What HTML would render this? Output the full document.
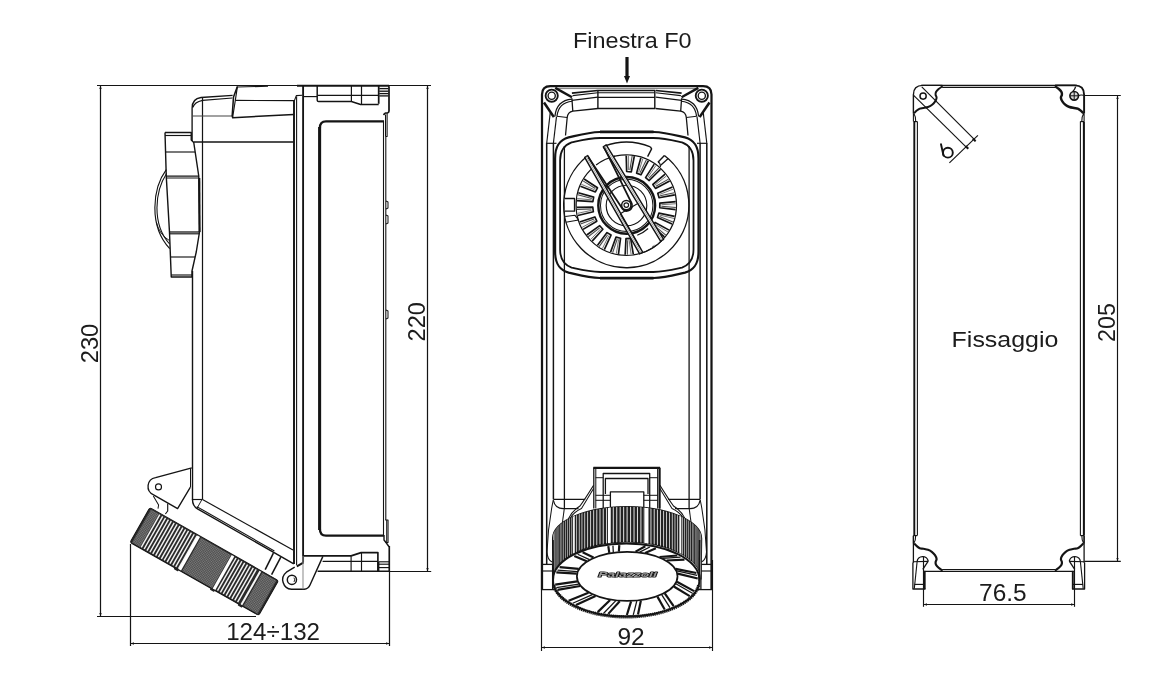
<!DOCTYPE html>
<html lang="it">
<head>
<meta charset="utf-8">
<title>Dimensioni</title>
<style>
html,body{margin:0;padding:0;background:#ffffff;}
body{width:1164px;height:699px;overflow:hidden;font-family:"Liberation Sans",sans-serif;}
svg{display:block;filter:grayscale(1);}
svg text{font-family:"Liberation Sans",sans-serif;}
</style>
</head>
<body>
<svg width="1164" height="699" viewBox="0 0 1164 699" stroke-linecap="butt" stroke-linejoin="round">
<rect x="0" y="0" width="1164" height="699" fill="#ffffff"/>
<line x1="97.00" y1="85.50" x2="300.00" y2="85.50" stroke="#141414" stroke-width="1.22" />
<line x1="389.00" y1="85.50" x2="431.00" y2="85.50" stroke="#141414" stroke-width="1.22" />
<line x1="100.50" y1="85.50" x2="100.50" y2="616.50" stroke="#141414" stroke-width="1.22" />
<line x1="97.00" y1="616.50" x2="256.00" y2="616.50" stroke="#141414" stroke-width="1.22" />
<line x1="427.50" y1="85.50" x2="427.50" y2="571.50" stroke="#141414" stroke-width="1.22" />
<line x1="389.50" y1="571.50" x2="431.20" y2="571.50" stroke="#141414" stroke-width="1.22" />
<line x1="130.50" y1="544.00" x2="130.50" y2="646.00" stroke="#141414" stroke-width="1.22" />
<line x1="389.50" y1="546.00" x2="389.50" y2="646.00" stroke="#141414" stroke-width="1.22" />
<line x1="130.50" y1="643.50" x2="389.50" y2="643.50" stroke="#141414" stroke-width="1.22" />
<polygon points="100.50,85.80 101.65,89.00 99.35,89.00" fill="#141414"/>
<polygon points="100.50,616.30 99.35,613.10 101.65,613.10" fill="#141414"/>
<polygon points="427.50,85.80 428.65,89.00 426.35,89.00" fill="#141414"/>
<polygon points="427.50,571.30 426.35,568.10 428.65,568.10" fill="#141414"/>
<polygon points="130.70,643.50 133.90,642.35 133.90,644.65" fill="#141414"/>
<polygon points="389.30,643.50 386.10,644.65 386.10,642.35" fill="#141414"/>
<path d="M165.00,132.50 L191.25,132.50 L191.25,140.00 L193.75,142.50 L198.75,176.00 L199.50,232.00 L196.25,252.00 L192.00,271.00 L192.00,277.00 L171.25,277.00 L169.50,232.50 L166.25,176.00 L165.00,132.50" stroke="#141414" stroke-width="1.41" fill="none" />
<line x1="165.00" y1="135.50" x2="191.25" y2="135.50" stroke="#141414" stroke-width="1.15" />
<line x1="165.50" y1="152.00" x2="195.00" y2="152.00" stroke="#141414" stroke-width="1.15" />
<line x1="166.30" y1="176.20" x2="198.80" y2="176.20" stroke="#141414" stroke-width="1.28" />
<line x1="166.40" y1="178.00" x2="198.90" y2="178.00" stroke="#141414" stroke-width="1.15" />
<line x1="169.50" y1="232.00" x2="199.50" y2="232.00" stroke="#141414" stroke-width="1.28" />
<line x1="169.60" y1="233.80" x2="199.30" y2="233.80" stroke="#141414" stroke-width="1.15" />
<line x1="171.00" y1="257.00" x2="195.00" y2="257.00" stroke="#141414" stroke-width="1.15" />
<line x1="171.20" y1="275.00" x2="192.00" y2="275.00" stroke="#141414" stroke-width="1.15" />
<line x1="199.30" y1="178.00" x2="199.60" y2="232.00" stroke="#141414" stroke-width="2.05" />
<path d="M166.3,169.6 C152.5,188 148.5,226 169.7,248.6" stroke="#141414" stroke-width="1.15" fill="none" />
<path d="M166.6,173.5 C155,191 151.5,224 169.6,244" stroke="#141414" stroke-width="1.09" fill="none" />
<path d="M156.3,222 Q159.5,235 169.4,240.5" stroke="#141414" stroke-width="0.96" fill="none" />
<path d="M232.6,95.3 L201.0,97.5 Q192.1,98.6 192.1,108.2 L192.1,141" stroke="#141414" stroke-width="1.34" fill="none" />
<path d="M232.4,98.0 L202.6,100.4 Q194.2,102.3 193.0,107.5" stroke="#141414" stroke-width="1.09" fill="none" />
<line x1="192.50" y1="271.00" x2="192.50" y2="500.00" stroke="#141414" stroke-width="1.41" />
<path d="M192.5,499.5 Q192.5,506 197.5,508.8 L293.8,563.8" stroke="#141414" stroke-width="1.41" fill="none" />
<line x1="196.80" y1="506.60" x2="274.40" y2="551.00" stroke="#141414" stroke-width="1.09" />
<line x1="202.50" y1="98.00" x2="202.50" y2="499.50" stroke="#141414" stroke-width="1.22" />
<line x1="192.50" y1="499.50" x2="202.50" y2="499.50" stroke="#141414" stroke-width="1.15" />
<line x1="202.50" y1="499.50" x2="293.00" y2="550.00" stroke="#141414" stroke-width="1.15" />
<line x1="192.00" y1="115.90" x2="232.30" y2="115.90" stroke="#444" stroke-width="1.02" />
<line x1="193.75" y1="142.00" x2="293.50" y2="142.00" stroke="#141414" stroke-width="1.28" />
<path d="M237.20,87.00 L268.00,86.20" stroke="#141414" stroke-width="1.15" fill="none" />
<path d="M237.40,86.60 L233.50,97.00 L232.20,115.90 L232.70,117.70 L293.75,114.50" stroke="#141414" stroke-width="1.54" fill="none" />
<path d="M237.40,86.60 L235.30,100.50 L232.70,117.00" stroke="#141414" stroke-width="1.15" fill="none" />
<line x1="235.40" y1="100.40" x2="293.75" y2="100.70" stroke="#141414" stroke-width="1.22" />
<line x1="294.00" y1="100.00" x2="294.00" y2="564.00" stroke="#141414" stroke-width="1.92" />
<line x1="296.60" y1="96.50" x2="296.60" y2="565.00" stroke="#141414" stroke-width="1.09" />
<line x1="303.10" y1="85.50" x2="303.10" y2="562.80" stroke="#141414" stroke-width="1.86" />
<line x1="296.80" y1="566.40" x2="303.40" y2="562.60" stroke="#141414" stroke-width="2.05" />
<path d="M294.4,100.6 L296.3,95.6 L302.2,95.3" stroke="#141414" stroke-width="1.15" fill="none" />
<line x1="303.50" y1="96.60" x2="317.00" y2="96.60" stroke="#141414" stroke-width="1.15" />
<line x1="297.00" y1="85.80" x2="389.00" y2="85.80" stroke="#141414" stroke-width="1.86" />
<path d="M317.2,86 L317.2,100.3 Q317.3,101.5 318.6,101.5 L351.4,101.5 L360.6,104.5 L378.7,104.5" stroke="#141414" stroke-width="1.47" fill="none" />
<line x1="351.40" y1="86.00" x2="351.40" y2="101.50" stroke="#141414" stroke-width="1.22" />
<line x1="361.50" y1="86.00" x2="361.50" y2="104.50" stroke="#141414" stroke-width="1.22" />
<line x1="317.50" y1="95.40" x2="378.20" y2="95.40" stroke="#141414" stroke-width="1.15" />
<line x1="379.30" y1="88.60" x2="388.50" y2="88.60" stroke="#141414" stroke-width="1.34" />
<line x1="379.30" y1="91.20" x2="388.50" y2="91.20" stroke="#141414" stroke-width="1.34" />
<line x1="379.30" y1="93.60" x2="388.50" y2="93.60" stroke="#141414" stroke-width="1.34" />
<line x1="379.30" y1="95.90" x2="388.50" y2="95.90" stroke="#141414" stroke-width="1.34" />
<line x1="378.70" y1="86.00" x2="378.70" y2="103.80" stroke="#141414" stroke-width="1.73" />
<path d="M388.2,85.8 Q389,85.9 389,87 L389,111 Q389,112.6 387.5,112.8 L385.6,113 Q384,113.4 383.8,115.2" stroke="#141414" stroke-width="1.73" fill="none" />
<path d="M385.50,114.50 L385.50,136.00" stroke="#141414" stroke-width="1.02" fill="none" />
<path d="M387.10,113.20 L387.10,136.50 L385.60,136.50" stroke="#141414" stroke-width="1.09" fill="none" />
<path d="M384,121.4 L326,121.4 Q319.9,121.4 319.9,128 L319.9,529 Q319.9,535.7 326,535.7 L384,535.7" stroke="#141414" stroke-width="2.30" fill="none" />
<line x1="319.60" y1="127.00" x2="319.60" y2="530.00" stroke="#141414" stroke-width="3.01" />
<line x1="383.50" y1="121.00" x2="383.50" y2="535.50" stroke="#141414" stroke-width="1.09" />
<line x1="385.80" y1="136.00" x2="385.80" y2="520.00" stroke="#141414" stroke-width="1.09" />
<path d="M386.00,201.00 L388.00,202.00 L388.00,208.00 L386.00,209.00" stroke="#141414" stroke-width="1.02" fill="none" />
<path d="M386.00,215.00 L388.00,216.00 L388.00,223.00 L386.00,224.00" stroke="#141414" stroke-width="1.02" fill="none" />
<path d="M386.00,310.00 L388.00,311.00 L388.00,318.00 L386.00,319.00" stroke="#141414" stroke-width="1.02" fill="none" />
<path d="M385.20,520.00 L388.00,520.00 L388.00,542.50 L385.20,542.50" stroke="#141414" stroke-width="1.15" fill="none" />
<line x1="386.60" y1="520.00" x2="386.60" y2="542.50" stroke="#141414" stroke-width="0.90" />
<path d="M384.00,535.00 L384.00,540.00 L386.00,542.50 L389.20,547.00 L389.20,571.30" stroke="#141414" stroke-width="1.41" fill="none" />
<line x1="304.00" y1="555.90" x2="351.10" y2="555.90" stroke="#141414" stroke-width="1.92" />
<path d="M351.10,555.90 L361.10,552.60 L377.90,552.60 L377.90,571.30" stroke="#141414" stroke-width="1.66" fill="none" />
<line x1="317.60" y1="571.30" x2="389.50" y2="571.30" stroke="#141414" stroke-width="1.41" />
<line x1="322.60" y1="561.40" x2="377.90" y2="561.40" stroke="#141414" stroke-width="1.15" />
<line x1="351.10" y1="555.90" x2="351.10" y2="571.30" stroke="#141414" stroke-width="1.15" />
<line x1="361.50" y1="552.60" x2="361.50" y2="571.30" stroke="#141414" stroke-width="1.15" />
<line x1="378.70" y1="561.80" x2="389.00" y2="561.80" stroke="#141414" stroke-width="1.15" />
<line x1="378.70" y1="564.20" x2="389.00" y2="564.20" stroke="#141414" stroke-width="1.15" />
<line x1="378.70" y1="567.60" x2="389.00" y2="567.60" stroke="#141414" stroke-width="1.15" />
<line x1="378.50" y1="561.80" x2="378.50" y2="571.30" stroke="#141414" stroke-width="1.79" />
<path d="M294.7,567.2 L286.4,572.2 A9.6,9.6 0 0 0 291.5,589.3 L304.3,589.3 Q308.2,589 310,585 L322.9,556.4" stroke="#141414" stroke-width="1.41" fill="none" />
<line x1="303.00" y1="556.00" x2="303.00" y2="589.30" stroke="#8a8a8a" stroke-width="1.02" />
<circle cx="291.90" cy="579.80" r="4.60" stroke="#141414" stroke-width="1.47" fill="none"/>
<path d="M294.0,577.6 Q295.3,579.8 294.0,582.0" stroke="#141414" stroke-width="0.90" fill="none" />
<path d="M191.8,467.8 L155.6,477.6 A9,9 0 0 0 153.6,494.8 L177.6,508.6 L190.4,487.2" stroke="#141414" stroke-width="1.34" fill="none" />
<path d="M153.3,496 L158.6,505 L158.0,508.6" stroke="#141414" stroke-width="1.02" fill="none" />
<path d="M167.7,503.4 L167.7,511 L165.4,514" stroke="#141414" stroke-width="1.15" fill="none" />
<line x1="190.50" y1="468.40" x2="190.50" y2="487.00" stroke="#141414" stroke-width="1.02" />
<circle cx="158.50" cy="486.90" r="3.00" stroke="#141414" stroke-width="1.15" fill="none"/>
<line x1="201.90" y1="499.60" x2="197.10" y2="508.20" stroke="#141414" stroke-width="0.96" />
<line x1="273.40" y1="553.20" x2="265.20" y2="569.60" stroke="#141414" stroke-width="1.54" />
<line x1="280.80" y1="557.20" x2="271.60" y2="574.60" stroke="#141414" stroke-width="1.54" />
<g transform="translate(149.8 507.6) rotate(29.6)">
<rect x="0" y="0" width="148.0" height="40.0" rx="2.2" fill="#2a2a2a" stroke="#141414" stroke-width="1"/>
<pattern id="kn" width="1.6" height="1.6" patternUnits="userSpaceOnUse"><rect width="1.6" height="1.6" fill="#262626"/><rect x="0.25" y="0.25" width="0.9" height="0.9" fill="#e4e4e4"/></pattern>
<rect x="2.00" y="1.0" width="9.00" height="38.0" fill="url(#kn)"/>
<rect x="11.50" y="1.2" width="1.45" height="37.6" fill="#f2f2f2"/>
<rect x="14.80" y="1.2" width="1.45" height="37.6" fill="#f2f2f2"/>
<rect x="18.10" y="1.2" width="1.45" height="37.6" fill="#f2f2f2"/>
<rect x="21.40" y="1.2" width="1.45" height="37.6" fill="#f2f2f2"/>
<rect x="24.70" y="1.2" width="1.45" height="37.6" fill="#f2f2f2"/>
<rect x="28.00" y="1.2" width="1.45" height="37.6" fill="#f2f2f2"/>
<rect x="31.30" y="1.2" width="1.45" height="37.6" fill="#f2f2f2"/>
<rect x="34.60" y="1.2" width="1.45" height="37.6" fill="#f2f2f2"/>
<rect x="37.90" y="1.2" width="1.45" height="37.6" fill="#f2f2f2"/>
<rect x="41.20" y="1.2" width="1.45" height="37.6" fill="#f2f2f2"/>
<rect x="44.50" y="1.2" width="1.45" height="37.6" fill="#f2f2f2"/>
<rect x="47.80" y="1.2" width="1.45" height="37.6" fill="#f2f2f2"/>
<rect x="51.10" y="1.2" width="1.45" height="37.6" fill="#f2f2f2"/>
<rect x="54.40" y="1.2" width="1.45" height="37.6" fill="#f2f2f2"/>
<rect x="55.3" y="0.8" width="2.9" height="38.4" fill="#fff"/>
<rect x="59.50" y="1.0" width="34.50" height="38.0" fill="url(#kn)"/>
<rect x="94.6" y="0.8" width="3.0" height="38.4" fill="#fff"/>
<rect x="99.20" y="1.2" width="1.45" height="37.6" fill="#f2f2f2"/>
<rect x="102.50" y="1.2" width="1.45" height="37.6" fill="#f2f2f2"/>
<rect x="105.80" y="1.2" width="1.45" height="37.6" fill="#f2f2f2"/>
<rect x="109.10" y="1.2" width="1.45" height="37.6" fill="#f2f2f2"/>
<rect x="112.40" y="1.2" width="1.45" height="37.6" fill="#f2f2f2"/>
<rect x="115.70" y="1.2" width="1.45" height="37.6" fill="#f2f2f2"/>
<rect x="119.00" y="1.2" width="1.45" height="37.6" fill="#f2f2f2"/>
<rect x="122.30" y="1.2" width="1.45" height="37.6" fill="#f2f2f2"/>
<rect x="126.6" y="0.8" width="2.0" height="38.4" fill="#f4f4f4"/>
<rect x="130.00" y="1.0" width="16.00" height="38.0" fill="url(#kn)"/>
<rect x="51" y="39.5" width="5" height="2.2" rx="1" fill="#222"/>
<rect x="92.5" y="39.5" width="5" height="2.2" rx="1" fill="#222"/>
<rect x="124.5" y="39.5" width="5" height="2.2" rx="1" fill="#222"/>
</g>
<text x="97.90" y="343.50" font-size="24.6" text-anchor="middle" fill="#1b1b22" transform="rotate(-90 97.90 343.50)" textLength="39.6" lengthAdjust="spacingAndGlyphs" >230</text>
<text x="424.60" y="321.80" font-size="24.6" text-anchor="middle" fill="#1b1b22" transform="rotate(-90 424.60 321.80)" textLength="39.2" lengthAdjust="spacingAndGlyphs" >220</text>
<text x="273.10" y="639.80" font-size="23.8" text-anchor="middle" fill="#1b1b22" textLength="93.8" lengthAdjust="spacingAndGlyphs" >124&#247;132</text>
<text x="632.30" y="47.60" font-size="22.8" text-anchor="middle" fill="#1b1b22" textLength="118.5" lengthAdjust="spacingAndGlyphs" >Finestra F0</text>
<line x1="627.00" y1="57.00" x2="627.00" y2="78.00" stroke="#141414" stroke-width="3.20" />
<polygon points="627.00,83.50 624.00,75.90 630.00,75.90" fill="#141414"/>
<line x1="541.50" y1="560.00" x2="541.50" y2="651.00" stroke="#141414" stroke-width="1.15" />
<line x1="712.50" y1="560.00" x2="712.50" y2="651.00" stroke="#141414" stroke-width="1.15" />
<line x1="541.50" y1="647.50" x2="712.50" y2="647.50" stroke="#141414" stroke-width="1.15" />
<polygon points="541.70,647.50 544.90,646.35 544.90,648.65" fill="#141414"/>
<polygon points="712.30,647.50 709.10,648.65 709.10,646.35" fill="#141414"/>
<text x="631.10" y="644.80" font-size="23.8" text-anchor="middle" fill="#1b1b22" textLength="27.2" lengthAdjust="spacingAndGlyphs" >92</text>
<path d="M542.0,590 L542.0,94.6 Q542.0,86.2 550.4,86.2 L703.1,86.2 Q711.5,86.2 711.5,94.6 L711.5,590" stroke="#141414" stroke-width="2.24" fill="none" />
<path d="M546.7,565 L546.7,143 M706.8,565 L706.8,143" stroke="#141414" stroke-width="1.54" fill="none" />
<path d="M553.4,499 L553.4,143 M700.1,499 L700.1,143" stroke="#141414" stroke-width="1.47" fill="none" />
<path d="M564.4,508.6 L564.4,146 M689.1,508.6 L689.1,146" stroke="#141414" stroke-width="1.28" fill="none" />
<line x1="556.00" y1="88.60" x2="697.50" y2="88.60" stroke="#555" stroke-width="0.77" />
<circle cx="551.70" cy="95.70" r="6.10" stroke="#141414" stroke-width="1.86" fill="none"/>
<circle cx="551.70" cy="95.70" r="3.60" stroke="#141414" stroke-width="1.34" fill="none"/>
<circle cx="701.80" cy="95.70" r="6.10" stroke="#141414" stroke-width="1.86" fill="none"/>
<circle cx="701.80" cy="95.70" r="3.60" stroke="#141414" stroke-width="1.34" fill="none"/>
<path d="M555.20,87.90 L572.00,97.30" stroke="#141414" stroke-width="2.43" fill="none" />
<path d="M544.00,102.50 L553.90,117.10" stroke="#141414" stroke-width="2.56" fill="none" />
<path d="M571.90,99.2 Q556.50,100.5 554.90,116.4" stroke="#141414" stroke-width="1.28" fill="none" />
<path d="M572.20,101.2 Q558.50,102.5 556.90,116.4" stroke="#141414" stroke-width="1.15" fill="none" />
<path d="M571.90,93.20 L597.80,90.50" stroke="#141414" stroke-width="1.66" fill="none" />
<path d="M572.60,95.60 L597.80,92.70" stroke="#141414" stroke-width="1.15" fill="none" />
<path d="M571.90,100.30 L597.80,97.10" stroke="#141414" stroke-width="1.28" fill="none" />
<path d="M571.90,98.20 L572.80,111.10 L598.00,108.50" stroke="#141414" stroke-width="1.28" fill="none" />
<path d="M572.80,111.1 Q567.80,112 567.20,117.5 L565.50,135.5" stroke="#141414" stroke-width="1.28" fill="none" />
<path d="M556.90,116.30 L567.20,117.50" stroke="#141414" stroke-width="1.15" fill="none" />
<path d="M550.20,113.00 L546.70,143.30" stroke="#141414" stroke-width="1.15" fill="none" />
<path d="M556.50,116.60 L553.40,143.30" stroke="#141414" stroke-width="1.15" fill="none" />
<path d="M546.70,143.30 L556.50,143.30" stroke="#141414" stroke-width="1.15" fill="none" />
<path d="M698.30,87.90 L681.50,97.30" stroke="#141414" stroke-width="2.43" fill="none" />
<path d="M709.50,102.50 L699.60,117.10" stroke="#141414" stroke-width="2.56" fill="none" />
<path d="M681.60,99.2 Q697.00,100.5 698.60,116.4" stroke="#141414" stroke-width="1.28" fill="none" />
<path d="M681.30,101.2 Q695.00,102.5 696.60,116.4" stroke="#141414" stroke-width="1.15" fill="none" />
<path d="M681.60,93.20 L655.70,90.50" stroke="#141414" stroke-width="1.66" fill="none" />
<path d="M680.90,95.60 L655.70,92.70" stroke="#141414" stroke-width="1.15" fill="none" />
<path d="M681.60,100.30 L655.70,97.10" stroke="#141414" stroke-width="1.28" fill="none" />
<path d="M681.60,98.20 L680.70,111.10 L655.50,108.50" stroke="#141414" stroke-width="1.28" fill="none" />
<path d="M680.70,111.1 Q685.70,112 686.30,117.5 L688.00,135.5" stroke="#141414" stroke-width="1.28" fill="none" />
<path d="M696.60,116.30 L686.30,117.50" stroke="#141414" stroke-width="1.15" fill="none" />
<path d="M703.30,113.00 L706.80,143.30" stroke="#141414" stroke-width="1.15" fill="none" />
<path d="M697.00,116.60 L700.10,143.30" stroke="#141414" stroke-width="1.15" fill="none" />
<path d="M706.80,143.30 L697.00,143.30" stroke="#141414" stroke-width="1.15" fill="none" />
<path d="M597.90,108.50 L597.90,90.50 L654.80,90.50 L654.80,108.50 L597.90,108.50" stroke="#141414" stroke-width="1.41" fill="none" />
<line x1="597.90" y1="92.70" x2="654.80" y2="92.70" stroke="#141414" stroke-width="1.15" />
<line x1="597.90" y1="97.30" x2="654.80" y2="97.30" stroke="#141414" stroke-width="1.28" />
<path d="M555.1,158.4 C555.1,145.9 559.6,140.0 568.6,137.4 C577.6,135.4 587.9,132.3 599.9,132.0 L653.7,132.0 C665.7,132.3 676.0,135.4 685.0,137.4 C694.0,140.0 698.5,145.9 698.5,158.4 L698.5,251.60000000000002 C698.5,264.1 694.0,270.0 685.0,272.6 C676.0,274.6 665.7,277.7 653.7,278.0 L599.9,278.0 C587.9,277.7 577.6,274.6 568.6,272.6 C559.6,270.0 555.1,264.1 555.1,251.60000000000002 Z" stroke="#141414" stroke-width="2.18" fill="none" />
<path d="M560.1,160.4 C560.1,150.9 564.6,145.0 571.6,142.4 C580.6,140.4 588.2,138.3 600.2,138.0 L653.4,138.0 C665.4,138.3 673.0,140.4 682.0,142.4 C689.0,145.0 693.5,150.9 693.5,160.4 L693.5,249.60000000000002 C693.5,259.1 689.0,265.0 682.0,267.6 C673.0,269.6 665.4,271.7 653.4,272.0 L600.2,272.0 C588.2,271.7 580.6,269.6 571.6,267.6 C564.6,265.0 560.1,259.1 560.1,249.60000000000002 Z" stroke="#141414" stroke-width="1.79" fill="none" />
<line x1="600.00" y1="131.90" x2="653.60" y2="131.90" stroke="#141414" stroke-width="2.56" />
<line x1="600.00" y1="278.10" x2="653.60" y2="278.10" stroke="#141414" stroke-width="2.56" />
<path d="M664.41,155.44 A62.6,62.6 0 1 1 586.48,156.80" stroke="#141414" stroke-width="1.41" fill="none" />
<circle cx="626.30" cy="205.10" r="50.20" stroke="#141414" stroke-width="1.28" fill="none"/>
<path d="M626.21,155.50 L626.65,171.50 L631.32,171.88 L634.32,156.15" stroke="#141414" stroke-width="1.66" fill="#fafafa" />
<line x1="628.38" y1="170.06" x2="628.38" y2="155.54" stroke="#666" stroke-width="0.90" />
<line x1="629.85" y1="170.18" x2="632.17" y2="155.85" stroke="#444" stroke-width="1.02" />
<path d="M640.88,157.69 L636.57,173.11 L640.92,174.85 L648.43,160.71" stroke="#141414" stroke-width="1.66" fill="#fafafa" />
<line x1="638.65" y1="172.24" x2="642.94" y2="158.37" stroke="#666" stroke-width="0.90" />
<line x1="640.01" y1="172.79" x2="646.47" y2="159.79" stroke="#444" stroke-width="1.02" />
<path d="M654.25,164.13 L645.57,177.58 L649.22,180.53 L660.57,169.24" stroke="#141414" stroke-width="1.66" fill="#fafafa" />
<line x1="647.81" y1="177.37" x2="656.01" y2="165.38" stroke="#666" stroke-width="0.90" />
<line x1="648.96" y1="178.29" x2="658.97" y2="167.78" stroke="#444" stroke-width="1.02" />
<path d="M665.12,174.22 L652.85,184.51 L655.46,188.40 L669.64,180.98" stroke="#141414" stroke-width="1.66" fill="#fafafa" />
<line x1="655.05" y1="184.97" x2="666.43" y2="175.95" stroke="#666" stroke-width="0.90" />
<line x1="655.87" y1="186.19" x2="668.55" y2="179.11" stroke="#444" stroke-width="1.02" />
<path d="M672.51,187.08 L657.75,193.28 L659.09,197.77 L674.83,194.87" stroke="#141414" stroke-width="1.66" fill="#fafafa" />
<line x1="659.72" y1="194.37" x2="673.25" y2="189.12" stroke="#666" stroke-width="0.90" />
<line x1="660.14" y1="195.78" x2="674.34" y2="192.76" stroke="#444" stroke-width="1.02" />
<path d="M675.77,201.55 L659.84,203.11 L659.79,207.79 L675.69,209.68" stroke="#141414" stroke-width="1.66" fill="#fafafa" />
<line x1="661.40" y1="204.73" x2="675.88" y2="203.72" stroke="#666" stroke-width="0.90" />
<line x1="661.38" y1="206.20" x2="675.84" y2="207.52" stroke="#444" stroke-width="1.02" />
<path d="M674.61,216.34 L658.93,213.11 L657.50,217.58 L672.12,224.08" stroke="#141414" stroke-width="1.66" fill="#fafafa" />
<line x1="659.94" y1="215.13" x2="674.07" y2="218.44" stroke="#666" stroke-width="0.90" />
<line x1="659.49" y1="216.53" x2="672.91" y2="222.06" stroke="#444" stroke-width="1.02" />
<path d="M669.12,230.12 L655.10,222.41 L652.41,226.25 L664.46,236.78" stroke="#141414" stroke-width="1.66" fill="#fafafa" />
<line x1="655.47" y1="224.63" x2="667.99" y2="231.97" stroke="#666" stroke-width="0.90" />
<line x1="654.62" y1="225.83" x2="665.81" y2="235.09" stroke="#444" stroke-width="1.02" />
<path d="M659.81,241.67 L648.70,230.15 L644.99,233.02 L653.39,246.65" stroke="#141414" stroke-width="1.66" fill="#fafafa" />
<line x1="648.39" y1="232.38" x2="658.18" y2="243.10" stroke="#666" stroke-width="0.90" />
<line x1="647.23" y1="233.28" x2="655.17" y2="245.43" stroke="#444" stroke-width="1.02" />
<path d="M633.29,254.21 L630.63,238.42 L625.95,238.70 L625.17,254.69" stroke="#141414" stroke-width="1.66" fill="#fafafa" />
<line x1="629.11" y1="240.09" x2="631.14" y2="254.46" stroke="#666" stroke-width="0.90" />
<line x1="627.65" y1="240.17" x2="627.34" y2="254.69" stroke="#444" stroke-width="1.02" />
<path d="M618.46,254.08 L620.58,238.21 L616.03,237.09 L610.56,252.14" stroke="#141414" stroke-width="1.66" fill="#fafafa" />
<line x1="618.64" y1="239.35" x2="616.33" y2="253.69" stroke="#666" stroke-width="0.90" />
<line x1="617.22" y1="239.00" x2="612.63" y2="252.78" stroke="#444" stroke-width="1.02" />
<path d="M604.32,249.57 L611.05,235.04 L607.03,232.62 L597.36,245.38" stroke="#141414" stroke-width="1.66" fill="#fafafa" />
<line x1="608.86" y1="235.56" x2="602.41" y2="248.56" stroke="#666" stroke-width="0.90" />
<line x1="607.60" y1="234.80" x2="599.14" y2="246.60" stroke="#444" stroke-width="1.02" />
<path d="M592.16,241.08 L602.88,229.19 L599.75,225.69 L586.74,235.02" stroke="#141414" stroke-width="1.66" fill="#fafafa" />
<line x1="600.63" y1="229.04" x2="590.62" y2="239.56" stroke="#666" stroke-width="0.90" />
<line x1="599.65" y1="227.94" x2="588.08" y2="236.72" stroke="#444" stroke-width="1.02" />
<path d="M583.05,229.37 L596.80,221.18 L594.85,216.92 L579.66,221.98" stroke="#141414" stroke-width="1.66" fill="#fafafa" />
<line x1="594.70" y1="220.38" x2="582.03" y2="227.46" stroke="#666" stroke-width="0.90" />
<line x1="594.09" y1="219.04" x2="580.44" y2="224.00" stroke="#444" stroke-width="1.02" />
<path d="M577.80,215.50 L593.36,211.74 L592.76,207.09 L576.76,207.44" stroke="#141414" stroke-width="1.66" fill="#fafafa" />
<line x1="591.59" y1="210.35" x2="577.39" y2="213.37" stroke="#666" stroke-width="0.90" />
<line x1="591.41" y1="208.89" x2="576.90" y2="209.60" stroke="#444" stroke-width="1.02" />
<path d="M576.90,200.69 L592.87,201.70 L593.67,197.09 L578.28,192.68" stroke="#141414" stroke-width="1.66" fill="#fafafa" />
<line x1="591.59" y1="199.85" x2="577.14" y2="198.54" stroke="#666" stroke-width="0.90" />
<line x1="591.84" y1="198.40" x2="577.78" y2="194.79" stroke="#444" stroke-width="1.02" />
<path d="M580.41,186.28 L595.37,191.97 L597.50,187.79 L584.10,179.04" stroke="#141414" stroke-width="1.66" fill="#fafafa" />
<line x1="594.70" y1="189.82" x2="581.27" y2="184.30" stroke="#666" stroke-width="0.90" />
<line x1="595.37" y1="188.51" x2="583.00" y2="180.90" stroke="#444" stroke-width="1.02" />
<path d="M586.23,156.49 L604.75,145.90 L662.11,240.29 L641.14,253.05 Z" stroke="#fff" stroke-width="0.13" fill="#fff" />
<path d="M596.09,165.01 A50.2,50.2 0 0 1 615.01,156.19" stroke="#141414" stroke-width="1.28" fill="none" />
<path d="M663.01,239.34 A50.2,50.2 0 0 1 640.14,253.36" stroke="#141414" stroke-width="1.28" fill="none" />
<path d="M564.60,198.50 L574.50,198.50 L574.50,211.20 L564.80,211.20" stroke="#141414" stroke-width="1.28" fill="#fff" />
<path d="M565.20,216.50 L575.00,215.30 L578.60,220.00 L565.80,222.30" stroke="#141414" stroke-width="1.15" fill="none" />
<circle cx="626.70" cy="205.40" r="28.40" stroke="#141414" stroke-width="2.43" fill="#fff"/>
<circle cx="626.70" cy="205.40" r="26.20" stroke="#141414" stroke-width="1.02" fill="none"/>
<circle cx="626.50" cy="205.50" r="20.30" stroke="#141414" stroke-width="1.15" fill="none"/>
<path d="M648.12,228.50 A32,32 0 0 1 637.24,235.17" stroke="#141414" stroke-width="1.15" fill="none" />
<path d="M604.75,145.90 A63,63 0 0 1 650.41,146.90" stroke="#141414" stroke-width="1.41" fill="none" />
<path d="M650.41,146.90 L651.6,148.9 L647.6,156.6" stroke="#141414" stroke-width="1.41" fill="none" />
<line x1="664.41" y1="155.44" x2="657.94" y2="162.33" stroke="#141414" stroke-width="1.41" />
<line x1="668.19" y1="158.58" x2="660.41" y2="165.58" stroke="#141414" stroke-width="1.28" />
<path d="M657.94,162.33 Q660.38,162.16 660.41,167.08" stroke="#141414" stroke-width="1.15" fill="none" />
<path d="M603.26,146.81 L660.61,241.19 L663.60,239.38 L606.25,144.99 Z" stroke="#141414" stroke-width="1.47" fill="#fff" />
<line x1="604.75" y1="145.90" x2="662.11" y2="240.29" stroke="#8a8a8a" stroke-width="0.77" />
<path d="M584.71,157.35 L639.62,253.92 L642.67,252.19 L587.75,155.62 Z" stroke="#141414" stroke-width="1.47" fill="#fff" />
<line x1="586.23" y1="156.49" x2="641.14" y2="253.05" stroke="#8a8a8a" stroke-width="0.77" />
<path d="M588.4,157.2 L621.3,207.1 Q623.2,210.6 626.2,211.0 Q630.4,211.0 631.9,207.2 Q632.6,204.6 631.2,202.3 L604.2,147.6" stroke="#141414" stroke-width="1.79" fill="none" />
<line x1="620.20" y1="213.70" x2="638.20" y2="203.30" stroke="#141414" stroke-width="1.15" />
<line x1="620.40" y1="214.00" x2="639.30" y2="246.50" stroke="#141414" stroke-width="1.15" />
<circle cx="626.30" cy="205.10" r="4.60" stroke="#141414" stroke-width="1.41" fill="#fff"/>
<circle cx="626.30" cy="205.10" r="2.30" stroke="#141414" stroke-width="1.15" fill="none"/>
<path d="M593.80,508.60 L593.80,467.80 L659.70,467.80 L659.70,508.60" stroke="#141414" stroke-width="1.28" fill="none" />
<line x1="593.40" y1="467.80" x2="660.10" y2="467.80" stroke="#141414" stroke-width="2.18" />
<line x1="659.50" y1="468.00" x2="659.50" y2="508.60" stroke="#141414" stroke-width="2.05" />
<line x1="595.80" y1="468.00" x2="595.80" y2="508.60" stroke="#141414" stroke-width="1.02" />
<line x1="657.60" y1="468.00" x2="657.60" y2="508.60" stroke="#141414" stroke-width="1.02" />
<path d="M603.20,508.00 L603.20,473.50 L649.70,473.50 L649.70,508.00" stroke="#141414" stroke-width="1.28" fill="none" />
<path d="M605.40,494.00 L605.40,478.50 L648.00,478.50 L648.00,494.00" stroke="#141414" stroke-width="1.28" fill="none" />
<path d="M610.40,507.00 L610.40,491.90 L643.80,491.90 L643.80,507.00" stroke="#141414" stroke-width="1.28" fill="none" />
<line x1="595.60" y1="477.70" x2="603.20" y2="477.70" stroke="#141414" stroke-width="1.02" />
<line x1="649.70" y1="477.70" x2="657.80" y2="477.70" stroke="#141414" stroke-width="1.02" />
<line x1="595.60" y1="495.30" x2="610.40" y2="495.30" stroke="#141414" stroke-width="1.02" />
<line x1="643.80" y1="495.30" x2="657.80" y2="495.30" stroke="#141414" stroke-width="1.02" />
<line x1="595.60" y1="500.30" x2="610.40" y2="500.30" stroke="#141414" stroke-width="1.02" />
<line x1="643.80" y1="500.30" x2="657.80" y2="500.30" stroke="#141414" stroke-width="1.02" />
<path d="M593.60,485.2 Q585.00,499 580.00,506 Q572.00,511 568.50,518.7" stroke="#141414" stroke-width="1.15" fill="none" />
<path d="M593.60,488.5 Q586.00,501 581.50,508.5 Q574.00,512 570.50,517.7" stroke="#141414" stroke-width="1.02" fill="none" />
<line x1="553.40" y1="499.40" x2="585.20" y2="499.40" stroke="#141414" stroke-width="1.15" />
<path d="M553.40,500.3 Q555.00,508.6 563.50,508.6 L578.50,508.6" stroke="#141414" stroke-width="1.15" fill="none" />
<path d="M553.40,499.4 Q548.00,525 547.00,552 Q547.50,560 552.00,562" stroke="#141414" stroke-width="1.02" fill="none" />
<path d="M564.30,508.6 L562.50,522" stroke="#141414" stroke-width="1.02" fill="none" />
<path d="M541.40,564.40 L552.60,564.40" stroke="#141414" stroke-width="1.28" fill="none" />
<path d="M541.40,571.00 L552.60,571.00" stroke="#141414" stroke-width="1.15" fill="none" />
<path d="M552.60,564.40 L552.60,589.60" stroke="#141414" stroke-width="1.28" fill="none" />
<line x1="541.40" y1="589.60" x2="556.00" y2="589.60" stroke="#141414" stroke-width="1.28" />
<path d="M659.90,485.2 Q668.50,499 673.50,506 Q681.50,511 685.00,518.7" stroke="#141414" stroke-width="1.15" fill="none" />
<path d="M659.90,488.5 Q667.50,501 672.00,508.5 Q679.50,512 683.00,517.7" stroke="#141414" stroke-width="1.02" fill="none" />
<line x1="700.10" y1="499.40" x2="668.30" y2="499.40" stroke="#141414" stroke-width="1.15" />
<path d="M700.10,500.3 Q698.50,508.6 690.00,508.6 L675.00,508.6" stroke="#141414" stroke-width="1.15" fill="none" />
<path d="M700.10,499.4 Q705.50,525 706.50,552 Q706.00,560 701.50,562" stroke="#141414" stroke-width="1.02" fill="none" />
<path d="M689.20,508.6 L691.00,522" stroke="#141414" stroke-width="1.02" fill="none" />
<path d="M712.10,564.40 L700.90,564.40" stroke="#141414" stroke-width="1.28" fill="none" />
<path d="M712.10,571.00 L700.90,571.00" stroke="#141414" stroke-width="1.15" fill="none" />
<path d="M700.90,564.40 L700.90,589.60" stroke="#141414" stroke-width="1.28" fill="none" />
<line x1="712.10" y1="589.60" x2="697.50" y2="589.60" stroke="#141414" stroke-width="1.28" />
<clipPath id="kb"><path d="M552.6,538.5 A74.5,31.8 0 0 1 701.6,538.5 L701.0,579 A72.6,36.6 0 0 0 553.2,579 Z"/></clipPath>
<path d="M552.6,538.5 A74.5,31.8 0 0 1 701.6,538.5 L701.0,579 A72.6,36.6 0 0 0 553.2,579 Z" stroke="#141414" stroke-width="1.28" fill="#222" />
<g clip-path="url(#kb)">
<rect x="552.97" y="505" width="0.30" height="80" fill="#dcdcdc"/>
<rect x="553.13" y="505" width="0.30" height="80" fill="#dcdcdc"/>
<rect x="553.46" y="505" width="0.30" height="80" fill="#dcdcdc"/>
<rect x="553.94" y="505" width="0.30" height="80" fill="#dcdcdc"/>
<rect x="554.59" y="505" width="0.30" height="80" fill="#dcdcdc"/>
<rect x="555.40" y="505" width="0.30" height="80" fill="#dcdcdc"/>
<rect x="556.35" y="505" width="0.32" height="80" fill="#dcdcdc"/>
<rect x="557.45" y="505" width="0.36" height="80" fill="#dcdcdc"/>
<rect x="558.70" y="505" width="0.41" height="80" fill="#dcdcdc"/>
<rect x="560.09" y="505" width="0.45" height="80" fill="#dcdcdc"/>
<rect x="561.64" y="505" width="0.50" height="80" fill="#dcdcdc"/>
<rect x="563.33" y="505" width="0.54" height="80" fill="#dcdcdc"/>
<rect x="565.16" y="505" width="0.58" height="80" fill="#dcdcdc"/>
<rect x="567.13" y="505" width="0.62" height="80" fill="#dcdcdc"/>
<rect x="569.22" y="505" width="0.66" height="80" fill="#dcdcdc"/>
<rect x="571.45" y="505" width="0.70" height="80" fill="#dcdcdc"/>
<rect x="573.80" y="505" width="0.73" height="80" fill="#dcdcdc"/>
<rect x="576.26" y="505" width="0.77" height="80" fill="#dcdcdc"/>
<rect x="578.84" y="505" width="0.80" height="80" fill="#dcdcdc"/>
<rect x="581.52" y="505" width="0.83" height="80" fill="#dcdcdc"/>
<rect x="584.30" y="505" width="0.86" height="80" fill="#dcdcdc"/>
<rect x="587.18" y="505" width="0.89" height="80" fill="#dcdcdc"/>
<rect x="590.15" y="505" width="0.91" height="80" fill="#dcdcdc"/>
<rect x="593.19" y="505" width="0.94" height="80" fill="#dcdcdc"/>
<rect x="596.31" y="505" width="0.96" height="80" fill="#dcdcdc"/>
<rect x="599.50" y="505" width="0.98" height="80" fill="#dcdcdc"/>
<rect x="602.75" y="505" width="0.99" height="80" fill="#dcdcdc"/>
<rect x="606.05" y="505" width="1.01" height="80" fill="#dcdcdc"/>
<rect x="609.40" y="505" width="1.02" height="80" fill="#dcdcdc"/>
<rect x="612.79" y="505" width="1.03" height="80" fill="#dcdcdc"/>
<rect x="616.21" y="505" width="1.04" height="80" fill="#dcdcdc"/>
<rect x="619.65" y="505" width="1.05" height="80" fill="#dcdcdc"/>
<rect x="623.11" y="505" width="1.05" height="80" fill="#dcdcdc"/>
<rect x="626.58" y="505" width="1.05" height="80" fill="#dcdcdc"/>
<rect x="630.04" y="505" width="1.05" height="80" fill="#dcdcdc"/>
<rect x="633.51" y="505" width="1.05" height="80" fill="#dcdcdc"/>
<rect x="636.96" y="505" width="1.04" height="80" fill="#dcdcdc"/>
<rect x="640.38" y="505" width="1.03" height="80" fill="#dcdcdc"/>
<rect x="643.78" y="505" width="1.02" height="80" fill="#dcdcdc"/>
<rect x="647.14" y="505" width="1.01" height="80" fill="#dcdcdc"/>
<rect x="650.46" y="505" width="0.99" height="80" fill="#dcdcdc"/>
<rect x="653.72" y="505" width="0.98" height="80" fill="#dcdcdc"/>
<rect x="656.93" y="505" width="0.96" height="80" fill="#dcdcdc"/>
<rect x="660.07" y="505" width="0.94" height="80" fill="#dcdcdc"/>
<rect x="663.14" y="505" width="0.91" height="80" fill="#dcdcdc"/>
<rect x="666.13" y="505" width="0.89" height="80" fill="#dcdcdc"/>
<rect x="669.04" y="505" width="0.86" height="80" fill="#dcdcdc"/>
<rect x="671.85" y="505" width="0.83" height="80" fill="#dcdcdc"/>
<rect x="674.56" y="505" width="0.80" height="80" fill="#dcdcdc"/>
<rect x="677.17" y="505" width="0.77" height="80" fill="#dcdcdc"/>
<rect x="679.67" y="505" width="0.73" height="80" fill="#dcdcdc"/>
<rect x="682.05" y="505" width="0.70" height="80" fill="#dcdcdc"/>
<rect x="684.32" y="505" width="0.66" height="80" fill="#dcdcdc"/>
<rect x="686.45" y="505" width="0.62" height="80" fill="#dcdcdc"/>
<rect x="688.46" y="505" width="0.58" height="80" fill="#dcdcdc"/>
<rect x="690.33" y="505" width="0.54" height="80" fill="#dcdcdc"/>
<rect x="692.06" y="505" width="0.50" height="80" fill="#dcdcdc"/>
<rect x="693.65" y="505" width="0.45" height="80" fill="#dcdcdc"/>
<rect x="695.10" y="505" width="0.41" height="80" fill="#dcdcdc"/>
<rect x="696.39" y="505" width="0.36" height="80" fill="#dcdcdc"/>
<rect x="697.53" y="505" width="0.32" height="80" fill="#dcdcdc"/>
<rect x="698.50" y="505" width="0.30" height="80" fill="#dcdcdc"/>
<rect x="699.31" y="505" width="0.30" height="80" fill="#dcdcdc"/>
<rect x="699.96" y="505" width="0.30" height="80" fill="#dcdcdc"/>
<rect x="700.44" y="505" width="0.30" height="80" fill="#dcdcdc"/>
<rect x="700.77" y="505" width="0.30" height="80" fill="#dcdcdc"/>
<rect x="700.93" y="505" width="0.30" height="80" fill="#dcdcdc"/>
<rect x="608.0" y="505" width="2.6" height="80" fill="#fff"/>
<rect x="645.0" y="505" width="3.4" height="80" fill="#fff"/>
<rect x="679.5" y="505" width="1.8" height="80" fill="#f6f6f6"/>
<rect x="573.0" y="505" width="1.6" height="80" fill="#f0f0f0"/>
</g>
<ellipse cx="626.20" cy="580.00" rx="73.20" ry="36.50" stroke="#141414" stroke-width="1.92" fill="#fff" />
<path d="M553.6,585 A73.2,36.5 0 0 0 698.8,585" stroke="#141414" stroke-width="3.4" fill="none" stroke-dasharray="1.3 0.7"/>
<path d="M553.0,540 L553.3,581" stroke="#141414" stroke-width="1.54" fill="none" />
<path d="M699.6,540 L699.2,581" stroke="#141414" stroke-width="1.54" fill="none" />
<line x1="586.76" y1="561.15" x2="574.28" y2="555.90" stroke="#141414" stroke-width="2.18" />
<line x1="589.47" y1="559.55" x2="577.67" y2="554.27" stroke="#141414" stroke-width="1.28" />
<line x1="593.54" y1="557.57" x2="582.59" y2="552.24" stroke="#141414" stroke-width="2.18" />
<line x1="609.29" y1="552.90" x2="608.30" y2="546.11" stroke="#141414" stroke-width="2.18" />
<line x1="613.31" y1="552.25" x2="612.94" y2="545.61" stroke="#141414" stroke-width="1.28" />
<line x1="618.89" y1="551.64" x2="619.31" y2="545.16" stroke="#141414" stroke-width="2.18" />
<line x1="635.51" y1="551.64" x2="645.36" y2="546.28" stroke="#141414" stroke-width="2.18" />
<line x1="639.65" y1="552.06" x2="649.90" y2="546.97" stroke="#141414" stroke-width="1.28" />
<line x1="645.11" y1="552.90" x2="655.87" y2="548.15" stroke="#141414" stroke-width="2.18" />
<line x1="659.51" y1="557.00" x2="677.29" y2="555.48" stroke="#141414" stroke-width="2.18" />
<line x1="662.66" y1="558.39" x2="680.51" y2="557.19" stroke="#141414" stroke-width="1.28" />
<line x1="666.53" y1="560.47" x2="684.48" y2="559.67" stroke="#141414" stroke-width="2.18" />
<line x1="675.72" y1="568.81" x2="696.37" y2="573.03" stroke="#141414" stroke-width="2.18" />
<line x1="676.83" y1="570.82" x2="697.16" y2="575.33" stroke="#141414" stroke-width="1.28" />
<line x1="677.78" y1="573.60" x2="697.73" y2="578.46" stroke="#141414" stroke-width="2.18" />
<line x1="676.91" y1="581.79" x2="694.09" y2="591.12" stroke="#141414" stroke-width="2.18" />
<line x1="675.83" y1="583.81" x2="692.43" y2="593.30" stroke="#141414" stroke-width="1.28" />
<line x1="673.84" y1="586.45" x2="689.72" y2="596.15" stroke="#141414" stroke-width="2.18" />
<line x1="664.79" y1="593.32" x2="673.62" y2="606.22" stroke="#141414" stroke-width="2.18" />
<line x1="661.81" y1="594.80" x2="669.96" y2="607.70" stroke="#141414" stroke-width="1.28" />
<line x1="657.41" y1="596.60" x2="664.69" y2="609.51" stroke="#141414" stroke-width="2.18" />
<line x1="640.89" y1="600.58" x2="637.99" y2="614.52" stroke="#141414" stroke-width="2.18" />
<line x1="636.77" y1="601.05" x2="633.28" y2="614.83" stroke="#141414" stroke-width="1.28" />
<line x1="631.10" y1="601.43" x2="626.85" y2="615.00" stroke="#141414" stroke-width="2.18" />
<line x1="619.76" y1="601.23" x2="608.25" y2="613.88" stroke="#141414" stroke-width="2.18" />
<line x1="615.61" y1="600.84" x2="603.68" y2="613.22" stroke="#141414" stroke-width="1.28" />
<line x1="610.13" y1="600.05" x2="597.67" y2="612.10" stroke="#141414" stroke-width="2.18" />
<line x1="595.58" y1="596.07" x2="576.00" y2="604.96" stroke="#141414" stroke-width="2.18" />
<line x1="592.38" y1="594.71" x2="572.72" y2="603.27" stroke="#141414" stroke-width="1.28" />
<line x1="588.44" y1="592.67" x2="568.66" y2="600.83" stroke="#141414" stroke-width="2.18" />
<line x1="580.21" y1="586.05" x2="557.54" y2="589.93" stroke="#141414" stroke-width="2.18" />
<line x1="578.75" y1="584.09" x2="556.34" y2="587.68" stroke="#141414" stroke-width="1.28" />
<line x1="577.30" y1="581.36" x2="555.22" y2="584.58" stroke="#141414" stroke-width="2.18" />
<line x1="576.62" y1="573.60" x2="556.30" y2="572.41" stroke="#141414" stroke-width="2.18" />
<line x1="577.26" y1="571.54" x2="557.49" y2="570.16" stroke="#141414" stroke-width="1.28" />
<line x1="578.68" y1="568.81" x2="559.57" y2="567.18" stroke="#141414" stroke-width="2.18" />
<ellipse cx="627.20" cy="576.40" rx="50.30" ry="24.50" stroke="#141414" stroke-width="1.73" fill="#fff" />
<text x="627.6" y="576.9" font-size="7" font-weight="bold" font-style="italic" text-anchor="middle" textLength="58.5" lengthAdjust="spacingAndGlyphs" fill="#9a9a9a" stroke="#111" stroke-width="1.2" paint-order="stroke">Palazzoli</text>
<line x1="921.00" y1="85.40" x2="1077.00" y2="85.40" stroke="#141414" stroke-width="1.41" />
<line x1="942.20" y1="87.40" x2="1055.30" y2="87.40" stroke="#141414" stroke-width="1.09" />
<line x1="942.20" y1="569.50" x2="1055.30" y2="569.50" stroke="#141414" stroke-width="1.15" />
<line x1="923.60" y1="571.40" x2="1073.90" y2="571.40" stroke="#141414" stroke-width="1.15" />
<line x1="914.30" y1="121.60" x2="914.30" y2="535.60" stroke="#141414" stroke-width="1.92" />
<line x1="917.40" y1="121.60" x2="917.40" y2="535.60" stroke="#141414" stroke-width="1.09" />
<line x1="1080.40" y1="121.60" x2="1080.40" y2="535.60" stroke="#141414" stroke-width="1.09" />
<line x1="1083.90" y1="121.60" x2="1083.90" y2="535.60" stroke="#141414" stroke-width="2.05" />
<line x1="913.50" y1="121.60" x2="917.30" y2="121.60" stroke="#141414" stroke-width="1.15" />
<line x1="1080.30" y1="121.60" x2="1084.00" y2="121.60" stroke="#141414" stroke-width="1.15" />
<line x1="913.50" y1="535.60" x2="917.30" y2="535.60" stroke="#141414" stroke-width="1.15" />
<line x1="1080.30" y1="535.60" x2="1084.00" y2="535.60" stroke="#141414" stroke-width="1.15" />
<path d="M913.40,113.40 L913.40,94.70 Q913.40,85.40 922.70,85.40 L942.40,85.40" stroke="#141414" stroke-width="1.41" fill="none" />
<path d="M942.60,86.20 C941.93,86.67 939.70,88.03 938.60,89.00 C937.50,89.97 936.50,91.03 936.00,92.00 C935.50,92.97 935.50,93.83 935.60,94.80 C935.70,95.77 936.70,96.67 936.60,97.80 C936.50,98.93 935.80,100.40 935.00,101.60 C934.20,102.80 932.97,104.10 931.80,105.00 C930.63,105.90 929.40,106.50 928.00,107.00 C926.60,107.50 924.77,107.73 923.40,108.00 C922.03,108.27 920.90,108.17 919.80,108.60 C918.70,109.03 917.73,109.83 916.80,110.60 C915.87,111.37 914.63,112.77 914.20,113.20" stroke="#141414" stroke-width="1.98" fill="none" />
<path d="M913.70,113.00 Q915.80,116.40 915.70,121.60 M913.40,113.40 L913.40,121.60" stroke="#141414" stroke-width="1.09" fill="none" />
<path d="M1084.10,113.40 L1084.10,94.70 Q1084.10,85.40 1074.80,85.40 L1055.10,85.40" stroke="#141414" stroke-width="1.92" fill="none" />
<path d="M1054.90,86.20 C1055.57,86.67 1057.80,88.03 1058.90,89.00 C1060.00,89.97 1061.00,91.03 1061.50,92.00 C1062.00,92.97 1062.00,93.83 1061.90,94.80 C1061.80,95.77 1060.80,96.67 1060.90,97.80 C1061.00,98.93 1061.70,100.40 1062.50,101.60 C1063.30,102.80 1064.53,104.10 1065.70,105.00 C1066.87,105.90 1068.10,106.50 1069.50,107.00 C1070.90,107.50 1072.73,107.73 1074.10,108.00 C1075.47,108.27 1076.60,108.17 1077.70,108.60 C1078.80,109.03 1079.77,109.83 1080.70,110.60 C1081.63,111.37 1082.87,112.77 1083.30,113.20" stroke="#141414" stroke-width="2.43" fill="none" />
<path d="M1083.80,113.00 Q1081.70,116.40 1081.80,121.60 M1084.10,113.40 L1084.10,121.60" stroke="#141414" stroke-width="1.09" fill="none" />
<path d="M913.40,535.90 L913.40,562.80" stroke="#141414" stroke-width="1.28" fill="none" />
<path d="M942.60,570.60 C941.93,570.13 939.70,568.77 938.60,567.80 C937.50,566.83 936.50,565.77 936.00,564.80 C935.50,563.83 935.50,562.97 935.60,562.00 C935.70,561.03 936.70,560.13 936.60,559.00 C936.50,557.87 935.80,556.40 935.00,555.20 C934.20,554.00 932.97,552.70 931.80,551.80 C930.63,550.90 929.40,550.30 928.00,549.80 C926.60,549.30 924.77,549.07 923.40,548.80 C922.03,548.53 920.90,548.63 919.80,548.20 C918.70,547.77 917.73,546.97 916.80,546.20 C915.87,545.43 914.63,544.03 914.20,543.60" stroke="#141414" stroke-width="2.18" fill="none" />
<path d="M913.70,543.80 Q915.80,540.40 915.70,535.20 M913.40,543.40 L913.40,535.20" stroke="#141414" stroke-width="1.09" fill="none" />
<path d="M1084.10,535.90 L1084.10,562.80" stroke="#141414" stroke-width="1.28" fill="none" />
<path d="M1054.90,570.60 C1055.57,570.13 1057.80,568.77 1058.90,567.80 C1060.00,566.83 1061.00,565.77 1061.50,564.80 C1062.00,563.83 1062.00,562.97 1061.90,562.00 C1061.80,561.03 1060.80,560.13 1060.90,559.00 C1061.00,557.87 1061.70,556.40 1062.50,555.20 C1063.30,554.00 1064.53,552.70 1065.70,551.80 C1066.87,550.90 1068.10,550.30 1069.50,549.80 C1070.90,549.30 1072.73,549.07 1074.10,548.80 C1075.47,548.53 1076.60,548.63 1077.70,548.20 C1078.80,547.77 1079.77,546.97 1080.70,546.20 C1081.63,545.43 1082.87,544.03 1083.30,543.60" stroke="#141414" stroke-width="2.18" fill="none" />
<path d="M1083.80,543.80 Q1081.70,540.40 1081.80,535.20 M1084.10,543.40 L1084.10,535.20" stroke="#141414" stroke-width="1.09" fill="none" />
<circle cx="923.10" cy="96.10" r="3.10" stroke="#141414" stroke-width="1.47" fill="none"/>
<circle cx="1074.20" cy="95.80" r="4.30" stroke="#141414" stroke-width="1.66" fill="#d6d6d6"/>
<line x1="1070.40" y1="95.80" x2="1078.00" y2="95.80" stroke="#141414" stroke-width="1.02" />
<line x1="1074.20" y1="92.00" x2="1074.20" y2="99.60" stroke="#141414" stroke-width="1.02" />
<path d="M1075.6,86.6 Q1075.2,89 1072.6,91.8" stroke="#141414" stroke-width="1.28" fill="none" />
<path d="M1078.2,95.6 Q1080.5,94.6 1083.5,95.2" stroke="#141414" stroke-width="1.15" fill="none" />
<path d="M917.10,561.6 A5.6,5.6 0 0 1 928.20,561.2" stroke="#141414" stroke-width="1.28" fill="none" />
<path d="M912.90,561.70 L928.20,561.40" stroke="#141414" stroke-width="1.09" fill="none" />
<path d="M928.20,561.20 L922.80,569.40" stroke="#141414" stroke-width="1.28" fill="none" />
<path d="M917.10,561.70 L914.30,588.60" stroke="#141414" stroke-width="1.09" fill="none" />
<path d="M912.90,562.40 L912.90,589.00 L925.40,589.00" stroke="#141414" stroke-width="1.28" fill="none" />
<path d="M924.70,570.90 L924.70,589.20" stroke="#141414" stroke-width="1.92" fill="none" />
<path d="M914.40,584.40 L924.50,584.40" stroke="#141414" stroke-width="1.15" fill="none" />
<path d="M1080.40,561.6 A5.6,5.6 0 0 0 1069.30,561.2" stroke="#141414" stroke-width="1.28" fill="none" />
<path d="M1084.60,561.70 L1069.30,561.40" stroke="#141414" stroke-width="1.09" fill="none" />
<path d="M1069.30,561.20 L1074.70,569.40" stroke="#141414" stroke-width="1.28" fill="none" />
<path d="M1080.40,561.70 L1083.20,588.60" stroke="#141414" stroke-width="1.09" fill="none" />
<path d="M1084.60,562.40 L1084.60,589.00 L1072.10,589.00" stroke="#141414" stroke-width="1.28" fill="none" />
<path d="M1072.80,570.90 L1072.80,589.20" stroke="#141414" stroke-width="1.92" fill="none" />
<path d="M1083.10,584.40 L1073.00,584.40" stroke="#141414" stroke-width="1.15" fill="none" />
<line x1="921.80" y1="86.80" x2="975.30" y2="140.30" stroke="#141414" stroke-width="1.15" />
<line x1="913.40" y1="95.10" x2="967.00" y2="147.90" stroke="#141414" stroke-width="1.15" />
<line x1="949.40" y1="162.90" x2="977.90" y2="135.30" stroke="#141414" stroke-width="1.15" />
<line x1="965.50" y1="146.00" x2="968.30" y2="148.80" stroke="#141414" stroke-width="2.05" />
<line x1="972.80" y1="138.60" x2="975.60" y2="141.40" stroke="#141414" stroke-width="2.05" />
<circle cx="947.90" cy="152.70" r="4.90" stroke="#141414" stroke-width="1.92" fill="none"/>
<line x1="941.00" y1="144.20" x2="943.50" y2="155.60" stroke="#141414" stroke-width="1.92" stroke-linecap="round"/>
<line x1="1083.50" y1="95.50" x2="1120.80" y2="95.50" stroke="#141414" stroke-width="1.15" />
<line x1="1084.50" y1="561.30" x2="1120.80" y2="561.30" stroke="#141414" stroke-width="1.15" />
<line x1="1117.50" y1="95.50" x2="1117.50" y2="561.30" stroke="#141414" stroke-width="1.15" />
<polygon points="1117.50,95.70 1118.65,98.90 1116.35,98.90" fill="#141414"/>
<polygon points="1117.50,561.10 1116.35,557.90 1118.65,557.90" fill="#141414"/>
<text x="1115.30" y="322.50" font-size="24.6" text-anchor="middle" fill="#1b1b22" transform="rotate(-90 1115.30 322.50)" textLength="38.8" lengthAdjust="spacingAndGlyphs" >205</text>
<line x1="923.50" y1="556.60" x2="923.50" y2="606.80" stroke="#141414" stroke-width="1.15" />
<line x1="1074.50" y1="556.60" x2="1074.50" y2="606.80" stroke="#141414" stroke-width="1.15" />
<line x1="923.50" y1="604.50" x2="1074.50" y2="604.50" stroke="#141414" stroke-width="1.15" />
<polygon points="923.70,604.50 926.90,603.35 926.90,605.65" fill="#141414"/>
<polygon points="1074.30,604.50 1071.10,605.65 1071.10,603.35" fill="#141414"/>
<text x="1002.90" y="600.90" font-size="23.8" text-anchor="middle" fill="#1b1b22" textLength="47.6" lengthAdjust="spacingAndGlyphs" >76.5</text>
<text x="1005.00" y="346.50" font-size="21.9" text-anchor="middle" fill="#1b1b22" textLength="106.8" lengthAdjust="spacingAndGlyphs" >Fissaggio</text>
</svg>
</body>
</html>
